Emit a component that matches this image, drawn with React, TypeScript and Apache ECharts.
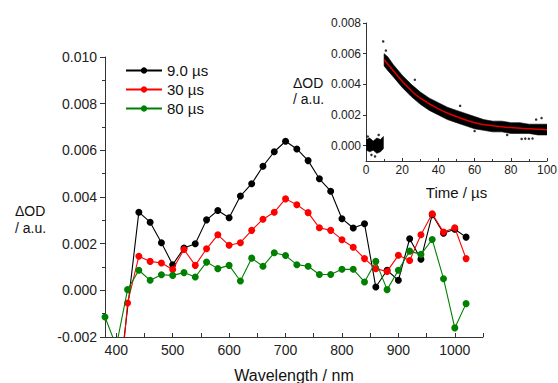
import React, { useEffect, useRef } from 'react';
import * as echarts from 'echarts';

// ---- Main spectra (ΔOD vs wavelength) ----
const wl9 = [400, 440, 460, 480, 500, 520, 540, 560, 580, 600, 620, 640, 660, 680, 700, 720, 740, 760, 780, 800, 820, 840, 860, 880, 900, 920, 940, 960, 980, 1000, 1020];
const od9 = [-0.0049, 0.00335, 0.00292, 0.00204, 0.0011, 0.00181, 0.002, 0.00302, 0.00342, 0.00311, 0.00404, 0.00457, 0.00532, 0.00594, 0.00639, 0.00606, 0.00556, 0.00478, 0.00425, 0.00307, 0.00267, 0.00285, 0.00014, 0.00086, 0.00043, 0.00221, 0.00133, 0.00324, 0.00245, 0.00262, 0.00228];

const wl30 = [400, 420, 440, 460, 480, 500, 520, 540, 560, 580, 600, 620, 640, 660, 680, 700, 720, 740, 760, 780, 800, 820, 840, 860, 880, 900, 920, 940, 960, 980, 1000, 1020];
const od30 = [-0.006, -0.00054, 0.00146, 0.00124, 0.00117, 0.00089, 0.00175, 0.00107, 0.00178, 0.00238, 0.00193, 0.00204, 0.00257, 0.00305, 0.00335, 0.00392, 0.00367, 0.00333, 0.00268, 0.00257, 0.00217, 0.00185, 0.00136, 0.00093, 0.00081, 0.0015, 0.00128, 0.00238, 0.00328, 0.0025, 0.00268, 0.00136];

const wl80 = [380, 400, 420, 440, 460, 480, 500, 520, 540, 560, 580, 600, 620, 640, 660, 680, 700, 720, 740, 760, 780, 800, 820, 840, 860, 880, 900, 920, 940, 960, 980, 1000, 1020];
const od80 = [-0.00114, -0.0024, 0.00003, 0.00086, 0.00043, 0.00067, 0.00064, 0.00076, 0.00057, 0.00121, 0.00093, 0.00107, 0.0004, 0.00138, 0.00103, 0.00161, 0.00149, 0.0011, 0.00103, 0.00068, 0.00068, 0.0009, 0.0009, 0.00036, 0.00124, 0.00003, 0.00086, 0.00168, 0.00154, 0.00218, 0.0005, -0.00161, -0.00057];

const seriesNames = ['9.0 µs', '30 µs', '80 µs'];
const seriesColors = ['#000000', '#ff0000', '#008000'];

const xTickLabels = [400, 500, 600, 700, 800, 900, 1000];
const xTickMarks = [400, 450, 500, 550, 600, 650, 700, 750, 800, 850, 900, 950, 1000, 1050];

// ---- Inset: kinetic trace (ΔOD vs time) ----
const fitTime = [10, 15, 20, 25, 30, 40, 50, 60, 70, 80, 90, 100];
const fitValue = [0.0056, 0.0049, 0.0042, 0.0036, 0.0031, 0.0024, 0.0019, 0.0015, 0.0013, 0.00118, 0.0011, 0.00104];

const bandTime = [10, 12, 15, 20, 25, 30, 35, 40, 45, 50, 55, 60, 65, 70, 75, 80, 85, 90, 95, 100];
const bandUpper = [0.006, 0.0058, 0.0053, 0.0046, 0.004, 0.0035, 0.0031, 0.0028, 0.0025, 0.0023, 0.0021, 0.0019, 0.0017, 0.0016, 0.0016, 0.0015, 0.0015, 0.0014, 0.0014, 0.0014];
const bandLower = [0.0052, 0.0049, 0.0045, 0.0038, 0.0032, 0.0027, 0.0023, 0.002, 0.0017, 0.0015, 0.0013, 0.0011, 0.001, 0.0009, 0.0009, 0.0008, 0.0008, 0.0008, 0.0007, 0.0007];

const preTime = [0.3, 2, 4, 6, 8, 9.6];
const preUpper = [0.0004, 0.0005, 0.0003, 0.0005, 0.0004, 0.0006];
const preLower = [-0.0003, -0.0004, -0.0003, -0.0005, -0.0004, -0.0002];

const outlierTime = [9.5, 11, 27, 52, 60, 78, 86, 88, 90, 92, 94, 97, 5, 7, 3, 1];
const outlierValue = [0.0068, 0.0062, 0.0043, 0.0026, 0.00095, 0.0007, 0.00044, 0.00046, 0.00045, 0.00047, 0.0017, 0.0018, -0.0007, 0.0007, -0.0006, 0.0006];

const inYLabels = [0, 0.002, 0.004, 0.006, 0.008];

const FONT = '"Liberation Sans", Arial, Helvetica, sans-serif';

function zip(a: number[], b: number[]) {
  return a.map((v, i) => [v, b[i]]);
}

function bandSeries(t: number[], up: number[], lo: number[]) {
  return {
    type: 'custom',
    xAxisIndex: 1,
    yAxisIndex: 1,
    silent: true,
    clip: true,
    z: 3,
    data: [[t[0], up[0]]],
    renderItem: (_params: any, api: any) => {
      const pts: number[][] = [];
      for (let i = 0; i < t.length; i++) pts.push(api.coord([t[i], up[i]]));
      for (let i = t.length - 1; i >= 0; i--) pts.push(api.coord([t[i], lo[i]]));
      return {
        type: 'polygon',
        shape: { points: pts },
        style: { fill: '#000', stroke: '#000', lineWidth: 0.6, lineJoin: 'round' },
      };
    },
  };
}

export default function App() {
  const ref = useRef<HTMLDivElement>(null);
  useEffect(() => {
    if (!ref.current) return;
    const chart = echarts.init(ref.current, null, { renderer: 'svg' });
    const axisLineStyle = { color: '#333', width: 1 };
    const mainData = [zip(wl9, od9), zip(wl30, od30), zip(wl80, od80)];
    chart.setOption({
      animation: false,
      backgroundColor: '#ffffff',
      textStyle: { fontFamily: FONT },
      legend: {
        data: seriesNames,
        orient: 'vertical',
        left: 120,
        top: 58,
        itemWidth: 36,
        itemHeight: 8,
        itemGap: 4,
        textStyle: { fontSize: 15, color: '#111', fontFamily: FONT },
      },
      grid: [
        { left: 105, top: 57, width: 378, height: 280, outerBoundsMode: 'none', containLabel: false },
        { left: 366, top: 23, width: 181, height: 138, outerBoundsMode: 'none', containLabel: false },
      ],
      xAxis: [
        {
          type: 'value',
          gridIndex: 0,
          min: 380,
          max: 1050,
          name: 'Wavelength / nm',
          nameLocation: 'middle',
          nameGap: 30,
          nameTextStyle: { fontSize: 16, color: '#111', fontFamily: FONT },
          axisLine: { show: true, onZero: false, lineStyle: axisLineStyle },
          axisTick: { show: true, inside: true, length: 4, customValues: xTickMarks, lineStyle: axisLineStyle },
          axisLabel: { customValues: xTickLabels, fontSize: 14, color: '#222', margin: 6, fontFamily: FONT, formatter: (v: number) => String(v) },
          splitLine: { show: false },
        },
        {
          type: 'value',
          gridIndex: 1,
          min: 0,
          max: 100,
          interval: 20,
          name: 'Time / µs',
          nameLocation: 'middle',
          nameGap: 24,
          nameTextStyle: { fontSize: 15, color: '#111', fontFamily: FONT },
          axisLine: { show: true, onZero: false, lineStyle: axisLineStyle },
          axisTick: { show: true, inside: true, length: 3, lineStyle: axisLineStyle },
          minorTick: { show: true, splitNumber: 2, length: 2, lineStyle: axisLineStyle },
          axisLabel: { fontSize: 12, color: '#222', margin: 3, fontFamily: FONT, formatter: (v: number) => String(v) },
          splitLine: { show: false },
        },
      ],
      yAxis: [
        {
          type: 'value',
          gridIndex: 0,
          min: -0.002,
          max: 0.01,
          interval: 0.002,
          axisLine: { show: true, onZero: false, lineStyle: axisLineStyle },
          axisTick: { show: true, inside: false, length: 5, lineStyle: axisLineStyle },
          minorTick: { show: true, splitNumber: 2, length: 3, lineStyle: axisLineStyle },
          axisLabel: { fontSize: 14, color: '#222', margin: 8, fontFamily: FONT, formatter: (v: number) => v.toFixed(3) },
          splitLine: { show: false },
        },
        {
          type: 'value',
          gridIndex: 1,
          min: -0.001,
          max: 0.008,
          axisLine: { show: true, onZero: false, lineStyle: axisLineStyle },
          axisTick: { show: true, inside: false, length: 3, customValues: inYLabels, lineStyle: axisLineStyle },
          axisLabel: { customValues: inYLabels, fontSize: 12, color: '#222', margin: 5, fontFamily: FONT, formatter: (v: number) => v.toFixed(3) },
          splitLine: { show: false },
        },
      ],
      graphic: [
        {
          type: 'text',
          left: 15,
          top: 202,
          style: { text: 'ΔOD\n/ a.u.', font: `14px ${FONT}`, fill: '#111', lineHeight: 17 },
        },
        {
          type: 'text',
          left: 293,
          top: 75,
          style: { text: 'ΔOD\n/ a.u.', font: `14px ${FONT}`, fill: '#111', lineHeight: 16 },
        },
      ],
      series: [
        ...seriesNames.map((name, i) => ({
          name,
          type: 'line',
          xAxisIndex: 0,
          yAxisIndex: 0,
          data: mainData[i],
          symbol: 'circle',
          symbolSize: 7,
          showSymbol: true,
          clip: true,
          color: seriesColors[i],
          lineStyle: { width: 1.1, color: seriesColors[i] },
          itemStyle: { color: seriesColors[i] },
          z: 2 + i,
        })),
        bandSeries(bandTime, bandUpper, bandLower),
        bandSeries(preTime, preUpper, preLower),
        {
          name: 'raw',
          type: 'scatter',
          xAxisIndex: 1,
          yAxisIndex: 1,
          data: zip(outlierTime, outlierValue),
          symbolSize: 2.5,
          itemStyle: { color: '#000' },
          z: 4,
        },
        {
          name: 'fit',
          type: 'line',
          xAxisIndex: 1,
          yAxisIndex: 1,
          data: zip(fitTime, fitValue),
          smooth: true,
          showSymbol: false,
          symbol: 'none',
          lineStyle: { width: 1.5, color: '#e00000' },
          z: 5,
        },
      ],
    });
    return () => chart.dispose();
  }, []);
  return (
    <div
      ref={ref}
      style={{ position: 'fixed', left: 0, top: 0, width: 558, height: 383, background: '#fff' }}
    />
  );
}
